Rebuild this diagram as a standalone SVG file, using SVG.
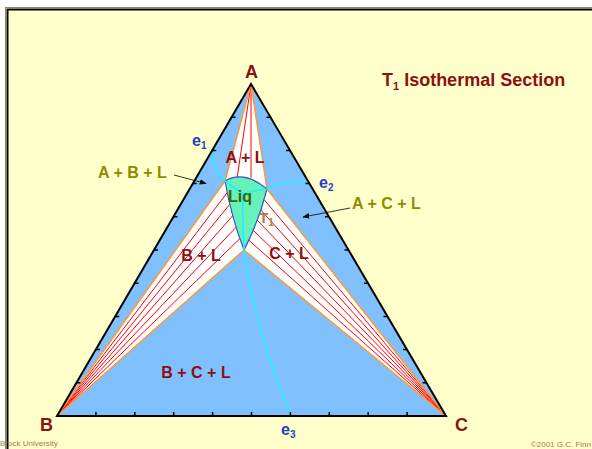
<svg xmlns="http://www.w3.org/2000/svg" width="592" height="449" viewBox="0 0 592 449">
<style>
.lbl{font-family:"Liberation Sans",Arial,sans-serif;font-weight:bold}
.dr{fill:#8C1010}
.ol{fill:#8C8C00}
.bl{fill:#1F3FC8}
.tie{stroke:#FF0000;stroke-width:1;fill:none}
.org{stroke:#FF9933;stroke-width:1.5;fill:none}
.cy{stroke:#22EEFF;stroke-width:1.6;fill:none}
.tick{stroke:#000;stroke-width:1.5}
.foot{font-family:"Liberation Sans",Arial,sans-serif;font-size:8px;fill:#A08050}
</style>
<defs>
<marker id="arr" viewBox="0 0 10 10" refX="9" refY="5" markerWidth="7" markerHeight="7" orient="auto" markerUnits="userSpaceOnUse">
<path d="M0,1 L10,5 L0,9 Z" fill="#000"/>
</marker>
</defs>
<rect x="0" y="0" width="592" height="449" fill="#FFFFFF"/>
<rect x="5.5" y="7.5" width="600" height="460" fill="none" stroke="#8C8C50" stroke-width="1"/>
<rect x="7.5" y="9.5" width="600" height="460" fill="#FFFFCC" stroke="#000" stroke-width="2"/>

<g id="triangle">
<path d="M251,84 L57,416 L446,416 Z" fill="#80C0FF"/>
</g>

<g id="region-AL">
<path d="M251,84 L225,181 Q244,170 267,189 Z" fill="#FFFFFF"/>
<path class="tie" d="M251,84 L237,178.6 M251,84 L251,177.8"/>
<path class="org" d="M251,84 L225,181 M251,84 L267,189"/>
</g>
<g id="region-BL">
<path d="M57,416 L225,181 Q231,216 244,250 Z" fill="#FFFFFF"/>
<path class="tie" d="M57,416 L227.2,192.6 M57,416 L229.8,204.2 M57,416 L232.7,215.7 M57,416 L236.1,227.2 M57,416 L239.9,238.6"/>
<path class="org" d="M57,416 L225,181 M57,416 L244,250"/>
</g>
<g id="region-CL">
<path d="M446,416 L267,189 Q259,221 244,250 Z" fill="#FFFFFF"/>
<path class="tie" d="M446,416 L264.1,199.6 M446,416 L260.9,210 M446,416 L257.2,220.2 M446,416 L253.2,230.3 M446,416 L248.8,240.2"/>
<path class="org" d="M446,416 L267,189 M446,416 L244,250"/>
</g>
<g id="liq">
<path d="M225,181 Q244,170 267,189 Q259,221 244,250 Q231,216 225,181 Z" fill="#66F2B8" stroke="#3355CC" stroke-width="1.2"/>
</g>

<g id="connectors">
<path class="cy" d="M212.2,150.4 Q213,172 225,181 Q235,188 243,194"/>
<path class="cy" d="M310,184 Q289,177 267,189 Q254,190 243,194"/>
<path class="cy" d="M291,416 Q255,330 244,250 Q242,222 243,194"/>
<line x1="174" y1="175" x2="206" y2="183.5" stroke="#000" stroke-width="0.8" marker-end="url(#arr)"/>
<line x1="350" y1="208" x2="303" y2="217" stroke="#000" stroke-width="0.8" marker-end="url(#arr)"/>
</g>

<g id="outline">
<path d="M251,84 L57,416 L446,416 Z" fill="none" stroke="#000" stroke-width="2" stroke-linejoin="miter"/>
<path class="tick" d="M231.6,117.2 h4 M212.2,150.4 h4 M192.8,183.6 h4 M173.4,216.8 h4 M154,250 h4 M134.6,283.2 h4 M115.2,316.4 h4 M95.8,349.6 h4 M76.4,382.8 h4"/>
<path class="tick" d="M270.5,117.2 h-4 M290,150.4 h-4 M309.5,183.6 h-4 M329,216.8 h-4 M348.5,250 h-4 M368,283.2 h-4 M387.5,316.4 h-4 M407,349.6 h-4 M426.5,382.8 h-4"/>
<path class="tick" d="M95.9,416 v-4 M134.8,416 v-4 M173.7,416 v-4 M212.6,416 v-4 M251.5,416 v-4 M290.4,416 v-4 M329.3,416 v-4 M368.2,416 v-4 M407.1,416 v-4"/>
</g>

<g id="labels">
<text class="lbl dr" x="251.5" y="78" font-size="18" text-anchor="middle">A</text>
<text class="lbl dr" x="40" y="431" font-size="18">B</text>
<text class="lbl dr" x="455" y="431" font-size="18">C</text>
<text class="lbl dr" x="382" y="86" font-size="18">T<tspan font-size="11" dy="4">1</tspan><tspan dy="-4"> Isothermal Section</tspan></text>
<text class="lbl dr" x="245" y="163" font-size="16" text-anchor="middle">A + L</text>
<text class="lbl" x="228" y="202" font-size="16" fill="#3A6600">Liq</text>
<text class="lbl" x="259" y="223" font-size="15" fill="#B07A45">T<tspan font-size="10" dy="3">1</tspan></text>
<text class="lbl dr" x="201" y="261" font-size="16" text-anchor="middle">B + L</text>
<text class="lbl dr" x="289" y="259" font-size="16" text-anchor="middle">C + L</text>
<text class="lbl dr" x="196" y="378" font-size="16" text-anchor="middle">B + C + L</text>
<text class="lbl ol" x="98" y="178" font-size="16">A + B + L</text>
<text class="lbl ol" x="352" y="209" font-size="16">A + C + L</text>
<text class="lbl bl" x="192" y="146" font-size="16">e<tspan font-size="10" dy="3">1</tspan></text>
<text class="lbl bl" x="319" y="188" font-size="16">e<tspan font-size="10" dy="3">2</tspan></text>
<text class="lbl bl" x="281" y="435" font-size="16">e<tspan font-size="10" dy="3">3</tspan></text>
<text class="foot" x="0" y="446">Brock University</text>
<text class="foot" x="591" y="447" text-anchor="end">©2001 G.C. Finn</text>
</g>
</svg>
